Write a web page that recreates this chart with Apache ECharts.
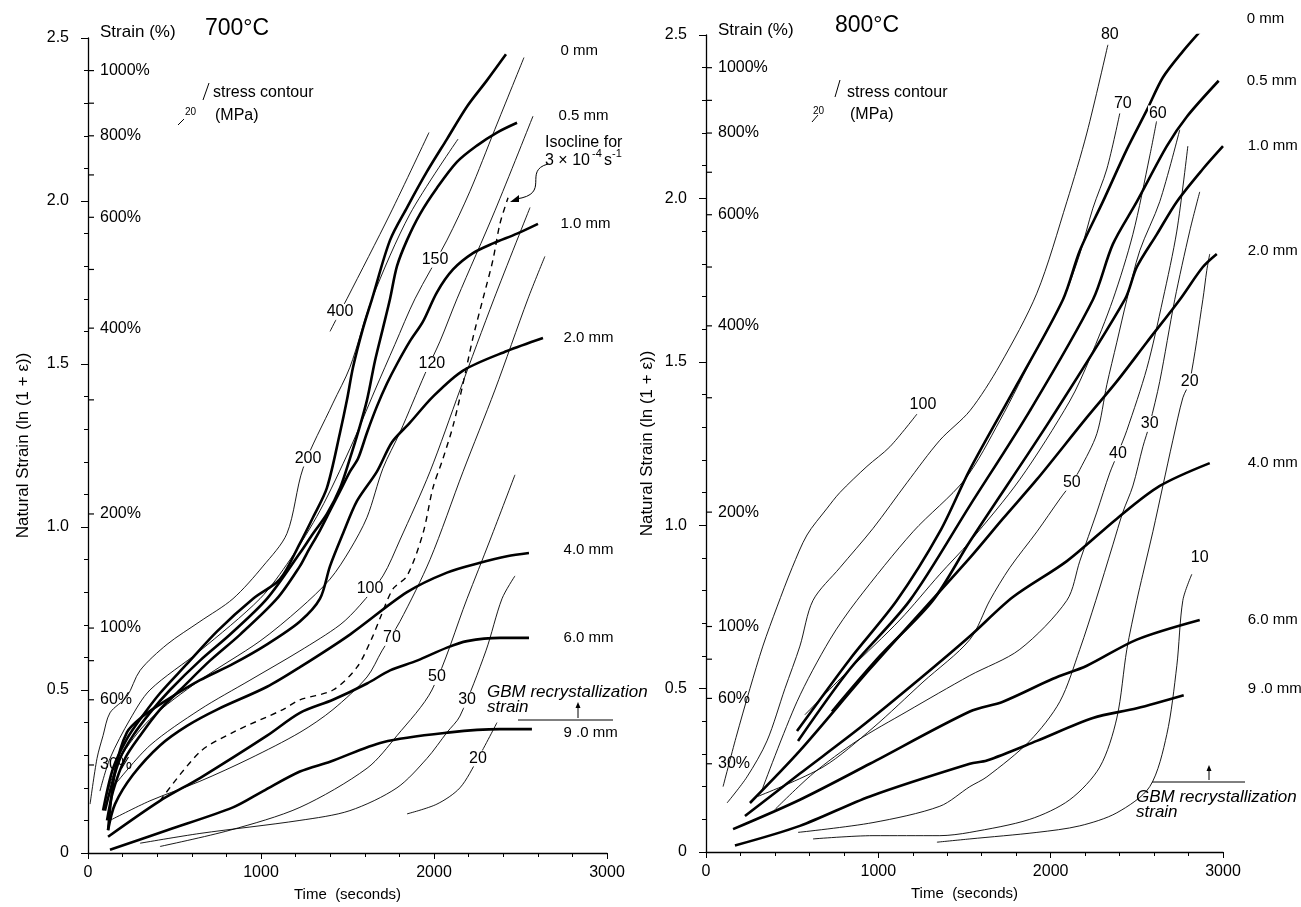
<!DOCTYPE html>
<html lang="en">
<head>
<meta charset="UTF-8">
<title>Natural strain vs time, 700 and 800 C</title>
<style>
  html, body { margin: 0; padding: 0; background: #fff; }
  #main { width: 1301px; height: 907px; }
</style>
</head>
<body>
<div id="main"></div>
<script src="https://cdn.jsdelivr.net/npm/echarts@6/dist/echarts.min.js"></script>
<script>
// ---- 700 C panel: depth curves (time s, natural strain) ----
var t700_0mm = [[87,0.13],[145,0.26],[225,0.35],[301,0.41],[416,0.49],[572,0.58],[746,0.68],[954,0.78],[1110,0.84],[1225,0.95],[1301,1.03],[1381,1.12],[1457,1.29],[1497,1.39],[1532,1.49],[1590,1.61],[1642,1.70],[1746,1.88],[1844,1.98],[1959,2.09],[2075,2.19],[2191,2.29],[2306,2.37],[2416,2.45]];
var t700_05mm = [[98,0.13],[127,0.19],[185,0.29],[260,0.36],[358,0.43],[474,0.50],[647,0.59],[821,0.67],[1035,0.78],[1225,0.92],[1301,0.98],[1381,1.04],[1457,1.12],[1514,1.21],[1561,1.29],[1613,1.39],[1659,1.51],[1705,1.61],[1746,1.70],[1786,1.80],[1844,1.88],[1919,1.96],[2017,2.04],[2133,2.12],[2248,2.17],[2364,2.21],[2480,2.24]];
var t700_1mm = [[110,0.10],[145,0.19],[214,0.29],[301,0.36],[416,0.44],[532,0.50],[705,0.59],[879,0.67],[1092,0.78],[1225,0.88],[1266,0.92],[1341,0.99],[1399,1.05],[1457,1.11],[1514,1.17],[1561,1.21],[1613,1.29],[1670,1.37],[1728,1.44],[1786,1.50],[1861,1.57],[1936,1.63],[2017,1.72],[2110,1.79],[2225,1.84],[2341,1.87],[2480,1.90],[2601,1.93]];
var t700_2mm = [[116,0.07],[156,0.25],[225,0.37],[318,0.42],[457,0.47],[647,0.53],[838,0.58],[1035,0.64],[1225,0.71],[1341,0.78],[1399,0.88],[1474,0.98],[1555,1.08],[1670,1.17],[1757,1.26],[1861,1.32],[1994,1.40],[2168,1.48],[2422,1.54],[2630,1.58]];
var t700_4mm = [[116,0.07],[156,0.15],[260,0.24],[416,0.33],[572,0.39],[746,0.44],[1035,0.51],[1225,0.57],[1514,0.67],[1844,0.80],[2075,0.86],[2266,0.89],[2422,0.91],[2549,0.92]];
var t700_6mm = [[116,0.05],[416,0.16],[647,0.23],[1035,0.36],[1225,0.43],[1416,0.47],[1613,0.52],[1746,0.56],[1902,0.59],[2075,0.63],[2191,0.65],[2381,0.66],[2549,0.66]];
var t700_9mm = [[127,0.01],[457,0.07],[838,0.14],[1012,0.19],[1225,0.25],[1399,0.28],[1705,0.34],[2092,0.37],[2381,0.38],[2566,0.38]];

// ---- 700 C panel: stress contours (MPa) ----
var s700_400 = [[1399,1.60],[1457,1.66],[1497,1.70],[1746,1.96],[1971,2.21]];
var s700_200 = [[12,0.15],[52,0.29],[87,0.36],[127,0.43],[225,0.48],[301,0.56],[457,0.64],[647,0.71],[838,0.78],[1012,0.88],[1150,0.98],[1243,1.18],[1416,1.38],[1514,1.49],[1642,1.70],[1861,1.96],[2139,2.19]];
var s700_150 = [[69,0.19],[127,0.29],[243,0.41],[358,0.50],[647,0.62],[994,0.78],[1168,0.90],[1341,1.05],[1514,1.24],[1659,1.42],[1774,1.56],[1890,1.70],[2075,1.88],[2208,2.03],[2352,2.22],[2520,2.44]];
var s700_120 = [[98,0.16],[185,0.29],[358,0.41],[647,0.53],[994,0.65],[1225,0.75],[1399,0.84],[1514,0.93],[1613,1.03],[1705,1.18],[1803,1.29],[1948,1.47],[2035,1.57],[2133,1.70],[2352,1.97],[2572,2.26]];
var s700_100 = [[156,0.21],[358,0.33],[647,0.44],[936,0.53],[1225,0.62],[1457,0.70],[1572,0.76],[1705,0.85],[1803,0.96],[1977,1.17],[2150,1.42],[2347,1.70],[2555,1.98]];
var s700_70 = [[127,0.10],[358,0.16],[647,0.22],[936,0.29],[1225,0.37],[1416,0.44],[1613,0.54],[1699,0.62],[1803,0.71],[1977,0.90],[2168,1.17],[2352,1.42],[2543,1.70],[2641,1.83]];
var s700_50 = [[416,0.02],[821,0.07],[1225,0.14],[1613,0.26],[1786,0.36],[1988,0.50],[2191,0.78],[2324,0.96],[2468,1.16]];
var s700_30 = [[301,0.03],[647,0.06],[1225,0.10],[1514,0.13],[1786,0.20],[1959,0.29],[2075,0.37],[2150,0.42],[2300,0.62],[2393,0.78],[2468,0.85]];
var s700_20 = [[1844,0.12],[2017,0.15],[2150,0.20],[2254,0.29],[2364,0.40]];
var iso700 = [[416,0.16],[647,0.31],[838,0.37],[1127,0.44],[1225,0.47],[1416,0.50],[1555,0.57],[1642,0.66],[1688,0.72],[1763,0.81],[1844,0.85],[1936,0.98],[1994,1.12],[2052,1.21],[2110,1.31],[2168,1.44],[2225,1.58],[2283,1.70],[2341,1.82],[2381,1.93],[2428,2.01]];
var lab700 = [['400',1457,1.66],['200',1272,1.21],['150',2006,1.82],['120',1988,1.50],['100',1630,0.81],['70',1757,0.66],['50',2017,0.54],['30',2191,0.47],['20',2254,0.29]];
var mm700 = [['0 mm',2728,2.46],['0.5 mm',2717,2.26],['1.0 mm',2728,1.93],['2.0 mm',2746,1.58],['4.0 mm',2746,0.93],['6.0 mm',2746,0.66],['9 .0 mm',2746,0.37]];

// ---- 800 C panel: depth curves ----
var t800_0mm = [[528,0.37],[835,0.59],[1108,0.77],[1357,0.98],[1531,1.17],[1804,1.43],[2071,1.69],[2169,1.84],[2303,1.99],[2442,2.15],[2558,2.27],[2651,2.37],[2767,2.45],[2883,2.52]];
var t800_05mm = [[534,0.34],[835,0.56],[1183,0.77],[1531,1.06],[1879,1.35],[2245,1.69],[2361,1.86],[2500,1.99],[2674,2.16],[2790,2.25],[2975,2.36]];
var t800_1mm = [[731,0.43],[1009,0.60],[1317,0.77],[1531,0.95],[1995,1.32],[2430,1.69],[2500,1.79],[2616,1.89],[2732,1.99],[2883,2.09],[3000,2.16]];
var t800_2mm = [[255,0.15],[545,0.31],[951,0.56],[1531,0.90],[1723,1.02],[1920,1.14],[2210,1.33],[2384,1.44],[2558,1.56],[2749,1.69],[2883,1.79],[2964,1.83]];
var t800_4mm = [[226,0.11],[545,0.24],[893,0.38],[1241,0.53],[1531,0.66],[1781,0.78],[2094,0.89],[2384,1.02],[2633,1.12],[2923,1.19]];
var t800_6mm = [[157,0.07],[545,0.16],[951,0.27],[1531,0.43],[1723,0.46],[2013,0.53],[2210,0.57],[2500,0.65],[2865,0.71]];
var t800_9mm = [[168,0.02],[545,0.08],[951,0.17],[1531,0.27],[1630,0.28],[1920,0.34],[2245,0.41],[2500,0.44],[2772,0.48]];

// ---- 800 C panel: stress contours ----
var s800_100 = [[99,0.20],[174,0.35],[255,0.50],[330,0.63],[412,0.75],[500,0.87],[586,0.97],[700,1.05],[777,1.10],[934,1.18],[1067,1.24],[1224,1.34]];
var s800_80 = [[122,0.15],[238,0.23],[354,0.34],[458,0.50],[545,0.63],[621,0.77],[777,0.87],[969,0.99],[1166,1.13],[1357,1.26],[1531,1.35],[1705,1.49],[1920,1.71],[2094,1.99],[2210,2.20],[2332,2.47]];
var s800_70 = [[325,0.19],[528,0.46],[719,0.65],[876,0.77],[1201,0.98],[1502,1.14],[1705,1.32],[1920,1.54],[2071,1.69],[2169,1.83],[2245,1.97],[2326,2.09],[2401,2.26]];
var s800_60 = [[574,0.42],[835,0.56],[1125,0.71],[1357,0.85],[1531,0.95],[1821,1.14],[2111,1.38],[2227,1.51],[2361,1.69],[2477,1.89],[2575,2.13],[2616,2.24]];
var s800_50 = [[300,0.17],[679,0.26],[969,0.38],[1259,0.52],[1531,0.65],[1647,0.77],[1763,0.87],[1920,0.98],[2053,1.08],[2123,1.13],[2169,1.17],[2268,1.28],[2326,1.43],[2384,1.56],[2442,1.69],[2517,1.84],[2633,1.99],[2749,2.21]];
var s800_40 = [[400,0.13],[621,0.24],[876,0.34],[1166,0.43],[1531,0.54],[1821,0.62],[2094,0.77],[2169,0.89],[2268,1.04],[2343,1.16],[2390,1.22],[2442,1.29],[2558,1.48],[2651,1.69],[2732,1.90],[2796,2.16]];
var s800_30 = [[534,0.06],[969,0.09],[1357,0.14],[1531,0.20],[1630,0.23],[1879,0.34],[2053,0.46],[2169,0.62],[2262,0.77],[2361,0.94],[2419,1.04],[2477,1.12],[2535,1.24],[2575,1.31],[2633,1.44],[2720,1.69],[2807,1.90],[2865,2.02]];
var s800_20 = [[621,0.04],[969,0.05],[1357,0.05],[1531,0.06],[1879,0.10],[2111,0.16],[2285,0.26],[2384,0.41],[2442,0.62],[2500,0.77],[2535,0.85],[2593,0.98],[2651,1.12],[2709,1.26],[2767,1.39],[2807,1.44],[2883,1.69],[2906,1.78],[2923,1.83]];
var s800_10 = [[1340,0.03],[1531,0.04],[1920,0.06],[2169,0.08],[2384,0.12],[2575,0.20],[2674,0.36],[2732,0.57],[2767,0.77],[2819,0.85]];
var lab800 = [['80',2343,2.50],['70',2419,2.29],['60',2622,2.26],['100',1259,1.37],['50',2123,1.13],['40',2390,1.22],['30',2575,1.31],['20',2807,1.44],['10',2865,0.90]];
var mm800 = [['0 mm',3135,2.55],['0.5 mm',3135,2.36],['1.0 mm',3140,2.16],['2.0 mm',3140,1.84],['4.0 mm',3140,1.19],['6.0 mm',3140,0.71],['9 .0 mm',3140,0.50]];

// engineering strain scale drawn inside the y axis
var pctTickVal = [0.27, 0.47, 0.59, 0.69, 1.04, 1.39, 1.61, 1.79, 1.95, 2.08, 2.20, 2.30, 2.40];
var pctTickTxt = ['30%', '60%', '', '100%', '200%', '', '400%', '', '600%', '', '800%', '', '1000%'];

var F = '"Liberation Sans", Arial, Helvetica, sans-serif';
var myChart = echarts.init(document.getElementById('main'));

function depthLine(data, i) {
    return { type: 'line', xAxisIndex: i, yAxisIndex: i, data: data, showSymbol: false, smooth: 0.3,
        lineStyle: { color: '#000', width: 2.6 }, z: 3, silent: true };
}
function stressLine(data, i, dashed) {
    return { type: 'line', xAxisIndex: i, yAxisIndex: i, data: data, showSymbol: false, smooth: 0.3,
        lineStyle: { color: '#000', width: dashed ? 1.4 : 0.9, type: dashed ? [6, 5] : 'solid' }, z: 2, silent: true };
}
function textSeries(list, i, pos, bg) {
    return { type: 'scatter', xAxisIndex: i, yAxisIndex: i, symbolSize: 1, clip: false, silent: true, z: 6,
        itemStyle: { color: 'rgba(0,0,0,0)', opacity: 1 },
        data: list.map(function (d) { return { name: d[0], value: [d[1], d[2]] }; }),
        label: { show: true, position: pos, distance: 0, formatter: '{b}', color: '#000', fontFamily: F, fontSize: bg ? 16 : 15,
            backgroundColor: bg ? '#fff' : 'transparent', padding: bg ? [0, 1] : 0 } };
}
function pctSeries(i) {
    return { type: 'scatter', xAxisIndex: i, yAxisIndex: i, clip: false, silent: true, z: 6,
        symbol: 'rect', symbolSize: [6, 1.2], symbolOffset: [3, 0], itemStyle: { color: '#000', opacity: 1 },
        data: pctTickVal.map(function (v, k) {
            return { value: [0, v], label: { show: pctTickTxt[k] !== '', formatter: pctTickTxt[k] } };
        }),
        label: { position: 'right', distance: 6, color: '#000', fontFamily: F, fontSize: 16 } };
}
function xAx(i) {
    return { gridIndex: i, type: 'value', min: 0, max: 3000, interval: 1000,
        axisLine: { show: true, onZero: false, lineStyle: { color: '#000', width: 1.3 } },
        axisTick: { show: true, length: 6, lineStyle: { color: '#000' } },
        minorTick: { show: true, splitNumber: 5, length: 4, lineStyle: { color: '#000' } },
        splitLine: { show: false }, minorSplitLine: { show: false },
        axisLabel: { color: '#000', fontFamily: F, fontSize: 16, margin: 12,
            formatter: function (v) { return String(v); } },
        name: 'Time  (seconds)', nameLocation: 'middle', nameGap: 34,
        nameTextStyle: { color: '#000', fontFamily: F, fontSize: 15 } };
}
function yAx(i, gap) {
    return { gridIndex: i, type: 'value', min: 0, max: 2.5, interval: 0.5,
        axisLine: { show: true, onZero: false, lineStyle: { color: '#000', width: 1.3 } },
        axisTick: { show: true, length: 7, lineStyle: { color: '#000' } },
        minorTick: { show: true, splitNumber: 5, length: 4, lineStyle: { color: '#000' } },
        splitLine: { show: false }, minorSplitLine: { show: false },
        axisLabel: { color: '#000', fontFamily: F, fontSize: 16, margin: 19,
            formatter: function (v) { return v === 0 ? '0' : v.toFixed(1); } },
        name: 'Natural Strain (ln (1 + \u03b5))', nameLocation: 'middle', nameGap: gap,
        nameTextStyle: { color: '#000', fontFamily: F, fontSize: 17 } };
}

function txt(x, y, s, size, extra) {
    var st = { text: s, fill: '#000', font: (extra && extra.italic ? 'italic ' : '') + size + 'px ' + F,
        textVerticalAlign: 'middle', textAlign: (extra && extra.align) || 'left' };
    return { type: 'text', x: x, y: y, style: st, silent: true };
}
function seg(x1, y1, x2, y2, w) {
    return { type: 'line', shape: { x1: x1, y1: y1, x2: x2, y2: y2 }, style: { stroke: '#000', lineWidth: w || 1 }, silent: true };
}
function arrowUp(x, yTop, yBot) {
    return [seg(x, yBot, x, yTop + 3, 1),
        { type: 'polygon', shape: { points: [[x, yTop], [x - 2.5, yTop + 6], [x + 2.5, yTop + 6]] }, style: { fill: '#000' }, silent: true }];
}

var graphics = [
    txt(100, 32, 'Strain (%)', 17), txt(205, 29, '700\u00b0C', 23),
    seg(209, 83, 203, 100), txt(185, 112, '20', 10), seg(178, 125, 184, 119),
    txt(213, 93, 'stress contour', 16), txt(215, 116, '(MPa)', 16),
    txt(545, 143, 'Isocline for', 16), txt(545, 161, '3 \u00d7 10', 16), txt(592, 154, '-4', 11),
    txt(604, 161, 's', 16), txt(612, 154, '-1', 11),
    { type: 'bezierCurve', shape: { x1: 548, y1: 164, cpx1: 522, cpy1: 171, cpx2: 552, cpy2: 194, x2: 516, y2: 199 },
        style: { stroke: '#000', fill: null, lineWidth: 1 }, silent: true },
    { type: 'polygon', shape: { points: [[510, 202], [519, 195], [519, 202]] }, style: { fill: '#000' }, silent: true },
    txt(487, 692, 'GBM recrystallization', 17, { italic: true }), txt(487, 707, 'strain', 17, { italic: true }),
    seg(518, 720, 613, 720),
    txt(718, 30, 'Strain (%)', 17), txt(835, 26, '800\u00b0C', 23),
    seg(840, 80, 835, 97), txt(813, 111, '20', 10), seg(812, 122, 818, 115),
    txt(847, 93, 'stress contour', 16), txt(850, 115, '(MPa)', 16),
    seg(1152, 782, 1245, 782),
    txt(1136, 797, 'GBM recrystallization', 17, { italic: true }), txt(1136, 812, 'strain', 17, { italic: true })
].concat(arrowUp(578, 702, 718)).concat(arrowUp(1209, 765, 780));

var option = {
    animation: false,
    backgroundColor: '#fff',
    grid: [
        { left: 88, right: 694, top: 38, bottom: 54, outerBoundsMode: 'none' },
        { left: 706, right: 78, top: 35, bottom: 55, outerBoundsMode: 'none' }
    ],
    xAxis: [xAx(0), xAx(1)],
    yAxis: [yAx(0, 56), yAx(1, 50)],
    graphic: graphics,
    series: [
        depthLine(t700_0mm, 0), depthLine(t700_05mm, 0), depthLine(t700_1mm, 0), depthLine(t700_2mm, 0),
        depthLine(t700_4mm, 0), depthLine(t700_6mm, 0), depthLine(t700_9mm, 0),
        stressLine(s700_400, 0), stressLine(s700_200, 0), stressLine(s700_150, 0), stressLine(s700_120, 0),
        stressLine(s700_100, 0), stressLine(s700_70, 0), stressLine(s700_50, 0), stressLine(s700_30, 0),
        stressLine(s700_20, 0), stressLine(iso700, 0, true),
        textSeries(lab700, 0, 'inside', true), textSeries(mm700, 0, 'right', false), pctSeries(0),

        depthLine(t800_0mm, 1), depthLine(t800_05mm, 1), depthLine(t800_1mm, 1), depthLine(t800_2mm, 1),
        depthLine(t800_4mm, 1), depthLine(t800_6mm, 1), depthLine(t800_9mm, 1),
        stressLine(s800_100, 1), stressLine(s800_80, 1), stressLine(s800_70, 1), stressLine(s800_60, 1),
        stressLine(s800_50, 1), stressLine(s800_40, 1), stressLine(s800_30, 1), stressLine(s800_20, 1),
        stressLine(s800_10, 1),
        textSeries(lab800, 1, 'inside', true), textSeries(mm800, 1, 'right', false), pctSeries(1)
    ]
};

myChart.setOption(option);
</script>
</body>
</html>
